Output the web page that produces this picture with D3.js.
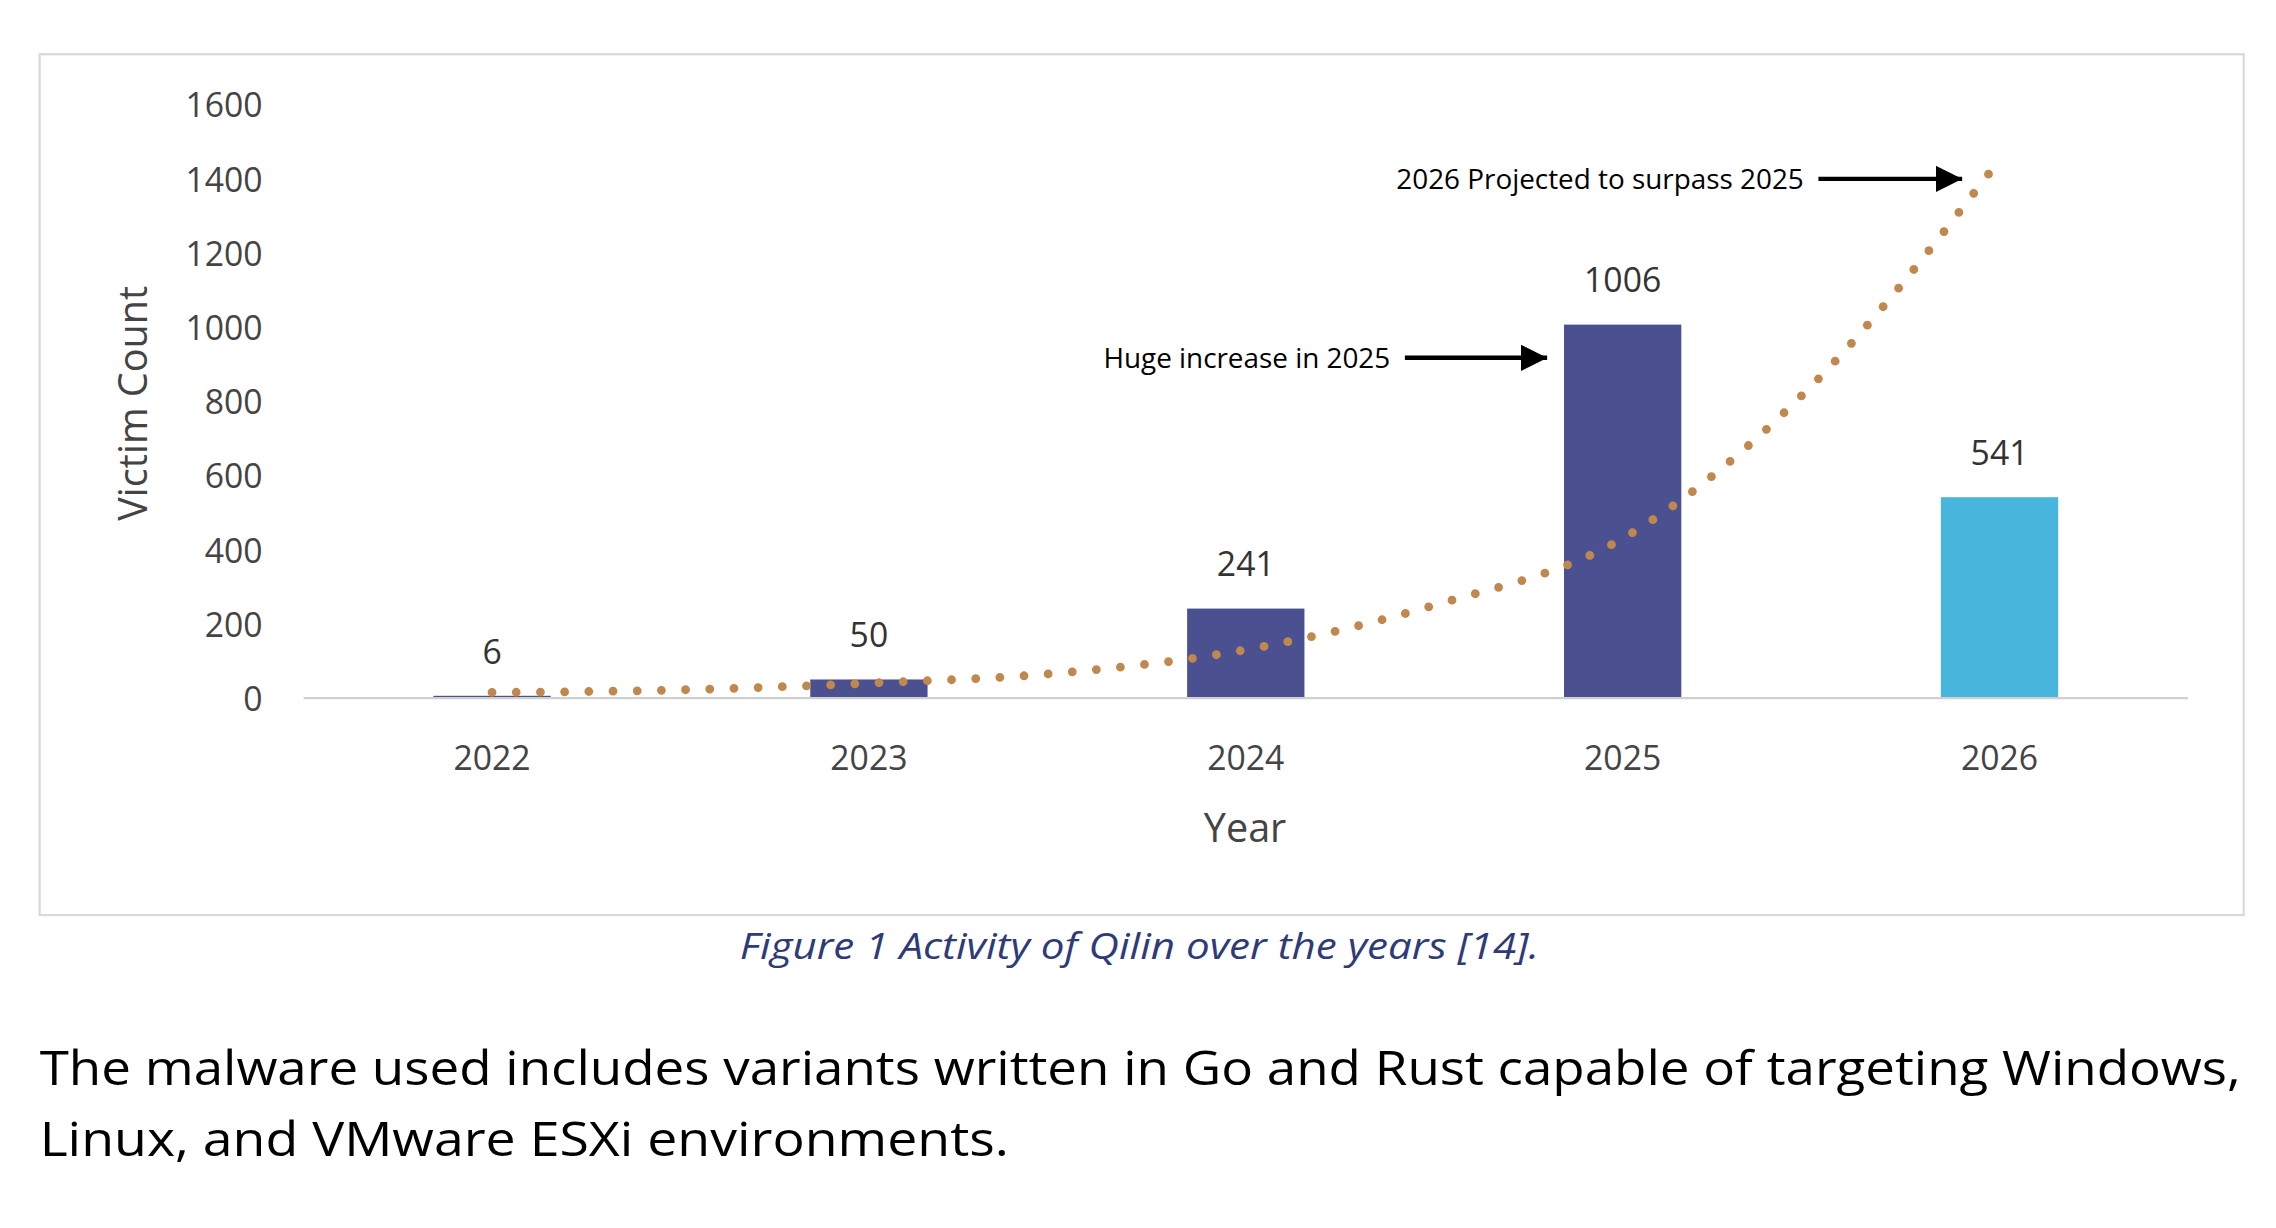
<!DOCTYPE html>
<html><head><meta charset="utf-8">
<script src="https://cdn.jsdelivr.net/npm/d3@7"></script>
<style>body{margin:0;background:#fff}</style></head>
<body><svg id="c"></svg>
<script>
const years = ['2022', '2023', '2024', '2025', '2026'];
const victims = [6, 50, 241, 1006, 541];
const barColors = ['#4b5190', '#4b5190', '#4b5190', '#4b5190', '#48b5dc'];
const yTicks = [0, 200, 400, 600, 800, 1000, 1200, 1400, 1600];
// trendline values at half-year positions
const trendX = [0, 0.5, 1, 1.5, 2, 2.5, 3, 3.5, 4];
const trendY = [15, 22, 40, 67, 130, 250, 430, 840, 1450];

const svg = d3.select('#c').attr('width', 2276).attr('height', 1228)
	.attr('viewBox', '0 0 1552 837.4');
const font = 'Lato, "Open Sans", sans-serif';
const wide = '"Open Sans", Lato, sans-serif';

svg.append('rect').attr('x', 27).attr('y', 37).attr('width', 1503).attr('height', 587)
	.attr('fill', '#fff').attr('stroke', '#d9d9d9').attr('stroke-width', 1.5);

const y = d3.scaleLinear().domain([0, 1600]).range([476, 71]);
const x = d3.scaleBand().domain(years).range([207, 1492]);
const xi = d3.scaleLinear().domain([0, 4]).range([x('2022') + x.bandwidth() / 2, x('2026') + x.bandwidth() / 2]);
const bw = 80;

svg.selectAll('.bar').data(victims).enter().append('rect')
	.attr('x', (d, i) => x(years[i]) + x.bandwidth() / 2 - bw / 2)
	.attr('y', d => y(d)).attr('width', bw).attr('height', d => y(0) - y(d))
	.attr('fill', (d, i) => barColors[i]);

svg.append('line').attr('x1', 207).attr('x2', 1492).attr('y1', y(0)).attr('y2', y(0))
	.attr('stroke', '#d0d0d0').attr('stroke-width', 1.5);

svg.selectAll('.lbl').data(victims).enter().append('text')
	.attr('x', (d, i) => x(years[i]) + x.bandwidth() / 2).attr('y', d => y(d) - 22)
	.attr('text-anchor', 'middle').attr('font-family', wide).attr('font-size', 23).attr('fill', '#333')
	.text(d => d);

svg.selectAll('.yt').data(yTicks).enter().append('text')
	.attr('x', 179).attr('y', d => y(d) + 9).attr('text-anchor', 'end')
	.attr('font-family', wide).attr('font-size', 23).attr('fill', '#444').text(d => d);

svg.selectAll('.xt').data(years).enter().append('text')
	.attr('x', d => x(d) + x.bandwidth() / 2).attr('y', 525).attr('text-anchor', 'middle')
	.attr('font-family', wide).attr('font-size', 23).attr('fill', '#444').text(d => d);

svg.append('text').attr('x', 849).attr('y', 574).attr('text-anchor', 'middle')
	.attr('font-family', wide).attr('font-size', 27).attr('fill', '#444').text('Year');
svg.append('text').attr('transform', 'translate(100,275) rotate(-90)').attr('text-anchor', 'middle')
	.attr('font-family', wide).attr('font-size', 27).attr('fill', '#444').text('Victim Count');

const line = d3.line().x(d => xi(d[0])).y(d => y(d[1])).curve(d3.curveMonotoneX);
svg.append('path').datum(trendX.map((v, i) => [v, trendY[i]])).attr('d', line)
	.attr('fill', 'none').attr('stroke', '#c0884e').attr('stroke-width', 6)
	.attr('stroke-linecap', 'round').attr('stroke-dasharray', '0 16.5');

const defs = svg.append('defs');
defs.append('marker').attr('id', 'ah').attr('viewBox', '0 0 10 10').attr('refX', 10).attr('refY', 5)
	.attr('markerWidth', 6).attr('markerHeight', 6).attr('orient', 'auto')
	.append('path').attr('d', 'M0,0L10,5L0,10Z').attr('fill', '#000');
const notes = [
	{t: 'Huge increase in 2025', tx: 948, ty: 244, x1: 958, x2: 1055},
	{t: '2026 Projected to surpass 2025', tx: 1230, ty: 122, x1: 1240, x2: 1338}
];
notes.forEach(n => {
	svg.append('text').attr('x', n.tx).attr('y', n.ty + 7).attr('text-anchor', 'end')
		.attr('font-family', wide).attr('font-size', 19).attr('fill', '#000').text(n.t);
	svg.append('line').attr('x1', n.x1).attr('x2', n.x2).attr('y1', n.ty).attr('y2', n.ty)
		.attr('stroke', '#000').attr('stroke-width', 3).attr('marker-end', 'url(#ah)');
});

svg.append('text').attr('x', 777).attr('y', 654).attr('text-anchor', 'middle')
	.attr('font-family', wide).attr('font-style', 'italic').attr('font-size', 25).attr('fill', '#2f3b78')
	.attr('textLength', 545).attr('lengthAdjust', 'spacingAndGlyphs')
	.text('Figure 1 Activity of Qilin over the years [14].');
const body = ['The malware used includes variants written in Go and Rust capable of targeting Windows,',
	'Linux, and VMware ESXi environments.'];
const bodyLen = [1501, 661];
body.forEach((t, i) => svg.append('text').attr('x', 27).attr('y', 740 + i * 48)
	.attr('font-family', wide).attr('font-size', 33).attr('fill', '#000')
	.attr('textLength', bodyLen[i]).attr('lengthAdjust', 'spacingAndGlyphs').text(t));
</script></body></html>
